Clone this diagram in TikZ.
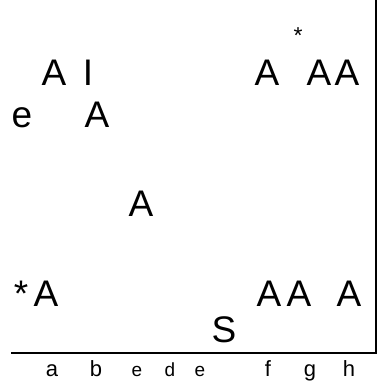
\documentclass[tikz,border=0pt]{standalone}
\usepackage{fontspec}
\setmainfont{Liberation Sans}

\begin{document}
\begin{tikzpicture}[x=1pt,y=-1pt,line cap=butt,
    big/.style={anchor=base,inner sep=0pt,font=\fontsize{37}{44}\selectfont},
    star/.style={anchor=base,inner sep=0pt,font=\fontsize{23}{28}\selectfont},
    lab/.style={anchor=base,inner sep=0pt,font=\fontsize{22}{26}\selectfont},
    sublab/.style={anchor=base,inner sep=0pt,font=\fontsize{19}{23}\selectfont}]
    \useasboundingbox (0,0) rectangle (384,386);

    % Frame: right side and floor.
    \coordinate (top) at (376,0);
    \coordinate (corner) at (376,353);
    \coordinate (floor) at (11,353);
    \draw[line width=1.3pt] (top) -- (corner) -- (floor);

    % Upper rows.
    \node[star] (s1) at (298,43) {*};
    \node[big] (a1) at (54,85) {A};
    \node[big] (i1) at (88,85) {I};
    \node[big] (a2) at (267,85) {A};
    \node[big] (a3) at (319,85) {A};
    \node[big] (a4) at (347,85) {A};
    \node[big] (e1) at (22,127) {e};
    \node[big] (a5) at (97,127) {A};

    % Middle.
    \node[big] (a6) at (141,216) {A};

    % Lower rows.
    \node[big] (s2) at (21,306) {*};
    \node[big] (a7) at (46,306) {A};
    \node[big] (a8) at (269,306) {A};
    \node[big] (a9) at (299,306) {A};
    \node[big] (a10) at (349,306) {A};
    \node[big] (s3) at (224,342) {S};

    % Labels under the floor.
    \node[lab] (la) at (52,376) {a};
    \node[lab] (lb) at (96,376) {b};
    \node[sublab] (lc) at (137,376) {e};
    \node[sublab] (ld) at (170,376) {d};
    \node[sublab] (le) at (200,376) {e};
    \node[lab] (lf) at (268,376) {f};
    \node[lab] (lg) at (310,376) {g};
    \node[lab] (lh) at (349,376) {h};
  \end{tikzpicture}
\end{document}
